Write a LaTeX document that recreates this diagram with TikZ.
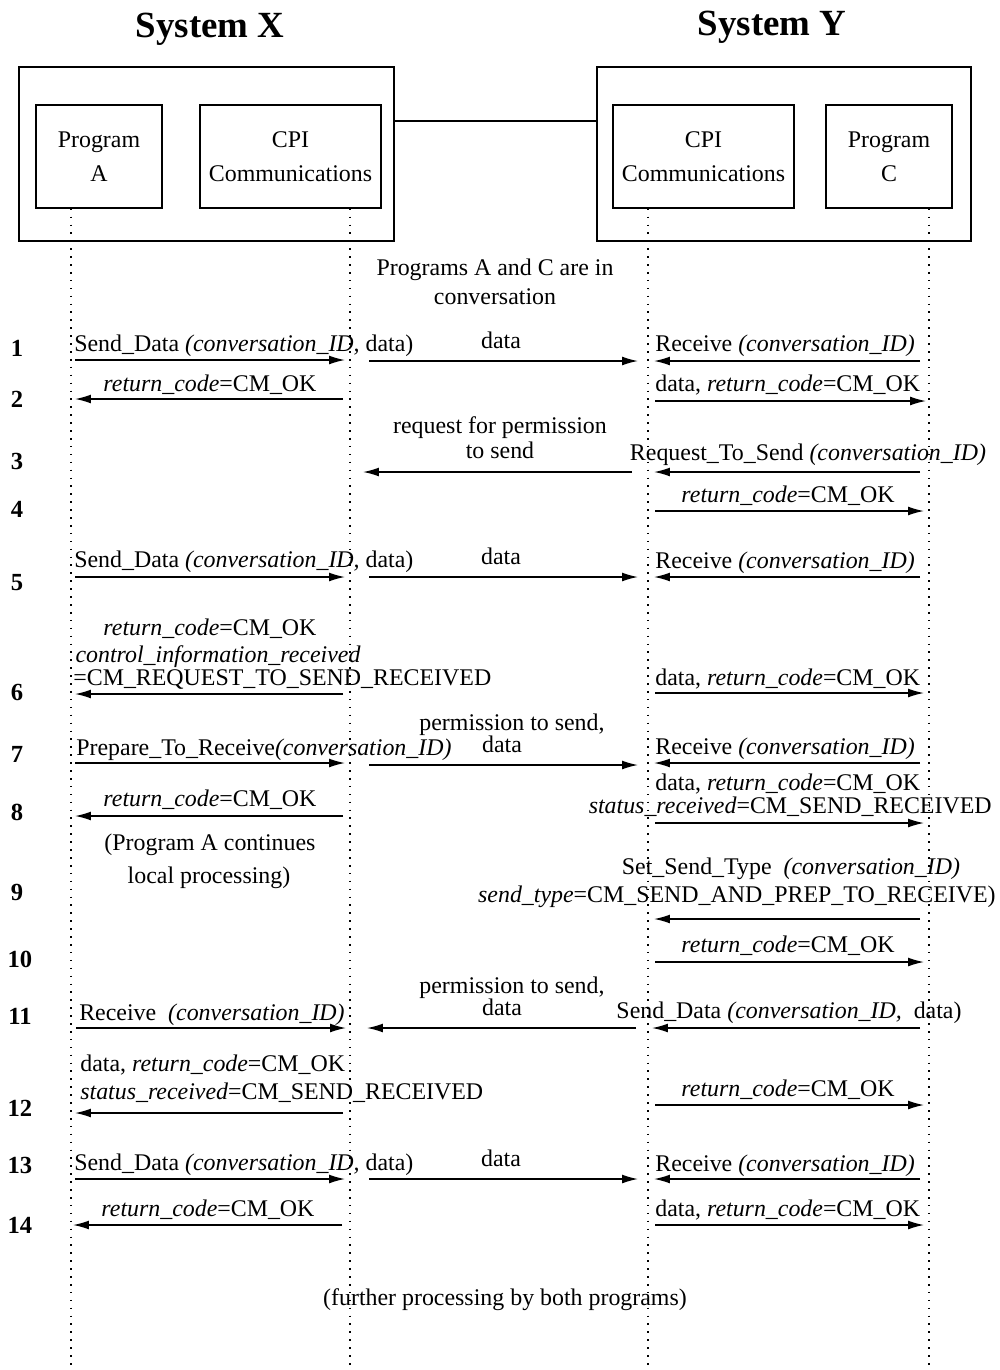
\documentclass[tikz,border=0pt]{standalone}
\usepackage{fontspec}
\setmainfont{Liberation Serif}
\usetikzlibrary{arrows.meta}
\newcommand\mysz{\fontsize{13.6}{19.3}\selectfont}
\newcommand\mynum{\fontsize{14}{16}\selectfont\bfseries}
\newcommand\mymsg[4]{\coordinate (#1s) at (#2,#4); \coordinate (#1e) at (#3,#4); \draw[msg] (#1s) -- (#1e);}
\newcommand\rc{\textit{return\_code}}
\begin{document}
\begin{tikzpicture}[x=0.02cm,y=-0.02cm,
  lbl/.style={font=\mysz, inner sep=0pt, anchor=base},
  lblw/.style={lbl, anchor=base west},
  lble/.style={lbl, anchor=base east},
  num/.style={font=\mynum, inner sep=0pt, anchor=base},
  msg/.style={-{Latex[length=9pt,width=5pt]}, line width=0.8pt},
  life/.style={line width=0.9pt, dash pattern=on 0.9pt off 3.6pt},
  outer/.style={draw, line width=0.8pt, minimum width=7.5cm, minimum height=3.48cm, inner sep=0pt},
  inner/.style={draw, line width=0.8pt, minimum height=2.06cm, inner sep=0pt, font=\mysz, align=center},
  title/.style={font=\fontsize{21}{24}\selectfont\bfseries, inner sep=0pt, anchor=base}]
\useasboundingbox (0,0) rectangle (1000,1370);
% titles
\node[title] (tx) at (210,37) {System X};
\node[title] (ty) at (772,35) {System Y};
% outer boxes
\node[outer] (sysX) at (206.5,154) {};
\node[outer, minimum width=7.48cm] (sysY) at (784,154) {};
\coordinate (link) at (500,121);
\draw[line width=0.8pt] (sysX.east |- link) -- (sysY.west |- link);
% inner boxes
\node[inner, minimum width=2.52cm] (pa) at (99,156.5) {Program\\A};
\node[inner, minimum width=3.62cm] (cx) at (290.5,156.5) {CPI\\Communications};
\node[inner, minimum width=3.62cm] (cy) at (703.5,156.5) {CPI\\Communications};
\node[inner, minimum width=2.52cm] (pc) at (889,156.5) {Program\\C};
% lifelines
\coordinate (la) at (71,1370); \coordinate (lx) at (350,1370);
\coordinate (ly) at (648,1370); \coordinate (lc) at (929,1370);
\draw[life] (la |- pa.south) -- (la);
\draw[life] (lx |- cx.south) -- (lx);
\draw[life] (ly |- cy.south) -- (ly);
\draw[life] (lc |- pc.south) -- (lc);
% intro
\node[lbl] (intro1) at (495,275) {Programs A and C are in};
\node[lbl] (intro2) at (495,304) {conversation};
% step numbers
\node[num] (n1) at (17,356) {1};
\node[num] (n2) at (17,407) {2};
\node[num] (n3) at (17,469) {3};
\node[num] (n4) at (17,517) {4};
\node[num] (n5) at (17,590) {5};
\node[num] (n6) at (17,700) {6};
\node[num] (n7) at (17,762) {7};
\node[num] (n8) at (17,820) {8};
\node[num] (n9) at (17,900) {9};
\node[num] (n10) at (20,967) {10};
\node[num] (n11) at (20,1024) {11};
\node[num] (n12) at (20,1116) {12};
\node[num] (n13) at (20,1173) {13};
\node[num] (n14) at (20,1233) {14};
% row 1
\mymsg{m1a}{75}{345}{360}
\mymsg{m1b}{369}{638}{361}
\mymsg{m1c}{920}{654}{361}
\node[lblw] (t1a) at (74,351) {Send\_Data \textit{(conversation\_ID,} data)};
\node[lbl] (t1b) at (501,348) {data};
\node[lblw] (t1c) at (655,351) {Receive \textit{(conversation\_ID)}};
% row 2
\mymsg{m2a}{343}{75}{399}
\mymsg{m2b}{655}{926}{401}
\node[lbl] (t2a) at (210,391) {\rc=CM\_OK};
\node[lblw] (t2b) at (655,391) {data, \rc=CM\_OK};
% row 3
\mymsg{m3a}{632}{363}{472}
\mymsg{m3b}{920}{654}{472}
\node[lbl] (t3a) at (500,433) {request for permission};
\node[lbl] (t3b) at (500,458) {to send};
\node[lbl] (t3c) at (808,460) {Request\_To\_Send \textit{(conversation\_ID)}};
% row 4
\mymsg{m4a}{655}{924}{511}
\node[lbl] (t4a) at (788,502) {\rc=CM\_OK};
% row 5
\mymsg{m5a}{75}{345}{577}
\mymsg{m5b}{369}{638}{577}
\mymsg{m5c}{920}{654}{577}
\node[lblw] (t5a) at (74,567) {Send\_Data \textit{(conversation\_ID,} data)};
\node[lbl] (t5b) at (501,564) {data};
\node[lblw] (t5c) at (655,568) {Receive \textit{(conversation\_ID)}};
% row 6
\mymsg{m6a}{343}{75}{694}
\mymsg{m6b}{655}{924}{693}
\node[lbl] (t6a) at (210,635) {\rc=CM\_OK};
\node[lbl] (t6b) at (218,662) {\textit{control\_information\_received}};
\node[lblw] (t6c) at (73,685) {=CM\_REQUEST\_TO\_SEND\_RECEIVED};
\node[lblw] (t6d) at (655,685) {data, \rc=CM\_OK};
% row 7
\mymsg{m7a}{75}{345}{763}
\mymsg{m7b}{369}{638}{765}
\mymsg{m7c}{920}{654}{763}
\node[lblw] (t7a) at (76,755) {Prepare\_To\_Receive\textit{(conversation\_ID)}};
\node[lbl] (t7b) at (512,730) {permission to send,};
\node[lbl] (t7c) at (502,752) {data};
\node[lblw] (t7d) at (655,754) {Receive \textit{(conversation\_ID)}};
% row 8
\mymsg{m8a}{343}{75}{816}
\mymsg{m8b}{655}{924}{823}
\node[lbl] (t8a) at (210,806) {\rc=CM\_OK};
\node[lblw] (t8b) at (655,790) {data, \rc=CM\_OK};
\node[lble] (t8c) at (992,813) {\textit{status\_received}=CM\_SEND\_RECEIVED};
\node[lbl] (t8d) at (210,850) {(Program A continues};
\node[lbl] (t8e) at (209,883) {local processing)};
% row 9
\mymsg{m9a}{920}{654}{919}
\node[lbl] (t9a) at (791,874) {Set\_Send\_Type \ \textit{(conversation\_ID)}};
\node[lble] (t9b) at (996,902) {\textit{send\_type}=CM\_SEND\_AND\_PREP\_TO\_RECEIVE)};
% row 10
\mymsg{m10a}{655}{924}{962}
\node[lbl] (t10a) at (788,952) {\rc=CM\_OK};
% row 11
\mymsg{m11a}{76}{346}{1028}
\mymsg{m11b}{636}{367}{1028}
\mymsg{m11c}{920}{652}{1028}
\node[lbl] (t11a) at (212,1020) {Receive \ \textit{(conversation\_ID)}};
\node[lbl] (t11b) at (512,993) {permission to send,};
\node[lbl] (t11c) at (502,1015) {data};
\node[lbl] (t11d) at (789,1018) {Send\_Data \textit{(conversation\_ID,} \ data)};
% row 12
\mymsg{m12a}{343}{75}{1113}
\mymsg{m12b}{655}{924}{1105}
\node[lblw] (t12a) at (80,1071) {data, \rc=CM\_OK};
\node[lblw] (t12b) at (80,1099) {\textit{status\_received}=CM\_SEND\_RECEIVED};
\node[lbl] (t12c) at (788,1096) {\rc=CM\_OK};
% row 13
\mymsg{m13a}{75}{345}{1179}
\mymsg{m13b}{369}{638}{1179}
\mymsg{m13c}{920}{654}{1179}
\node[lblw] (t13a) at (74,1170) {Send\_Data \textit{(conversation\_ID,} data)};
\node[lbl] (t13b) at (501,1166) {data};
\node[lblw] (t13c) at (655,1171) {Receive \textit{(conversation\_ID)}};
% row 14
\mymsg{m14a}{342}{73}{1225}
\mymsg{m14b}{655}{924}{1225}
\node[lbl] (t14a) at (208,1216) {\rc=CM\_OK};
\node[lblw] (t14b) at (655,1216) {data, \rc=CM\_OK};
% end
\node[lbl] (fin) at (505,1305) {(further processing by both programs)};
\end{tikzpicture}
\end{document}
